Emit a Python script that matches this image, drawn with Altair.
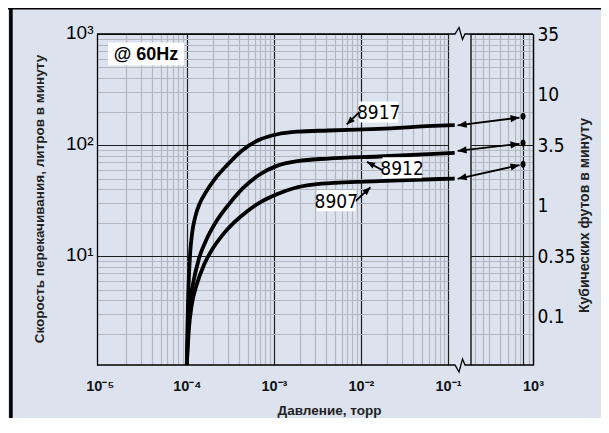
import math
import altair as alt
import pandas as pd

# ---------------- data ----------------
models = ["8917", "8912", "8907"]

pressure_8917 = [1.0e-4, 1.016e-4, 1.035e-4, 1.060e-4, 1.098e-4, 1.158e-4, 1.254e-4, 1.413e-4,
                 1.658e-4, 2.107e-4, 2.9e-4, 4.323e-4, 6.8e-4, 1.099e-3, 1.879e-3, 4.203e-3,
                 1.606e-2, 7.988e-2, 0.1193]
speed_8917 = [1.05, 2.17, 4.08, 6.9, 11.2, 16.7, 22.8, 30.0, 37.8, 49.7, 66.0, 89.5, 111.5,
              125.2, 132.0, 135.3, 140.0, 149.7, 151.3]

pressure_8912 = [1.0e-4, 1.027e-4, 1.083e-4, 1.189e-4, 1.376e-4, 1.703e-4, 2.223e-4, 3.059e-4,
                 4.44e-4, 6.8e-4, 1.099e-3, 1.879e-3, 4.203e-3, 1.606e-2, 7.988e-2, 0.1193]
speed_8912 = [1.05, 1.95, 3.67, 5.83, 9.45, 14.4, 21.0, 29.4, 41.1, 54.0, 65.3, 71.8, 75.6,
              78.9, 83.6, 84.9]

pressure_8907 = [1.0e-4, 1.055e-4, 1.142e-4, 1.305e-4, 1.572e-4, 1.945e-4, 2.539e-4, 3.495e-4,
                 4.94e-4, 7.365e-4, 1.099e-3, 1.734e-3, 2.81e-3, 5.497e-3, 1.606e-2, 7.988e-2,
                 0.1193]
speed_8907 = [1.05, 2.17, 3.67, 5.59, 8.33, 11.4, 15.3, 20.1, 25.4, 31.3, 36.3, 41.1, 44.0,
              45.9, 47.3, 49.5, 50.0]

# free-air displacement at atmospheric pressure (dots), L/min
atm_pressure = 760
atm_speed = [181.6, 104.3, 67.1]

# double arrows: curve end -> dot (pressure in the right panel's units)
arrow_p = [124.2, 688.5]
arrow_speed_left = [150.3, 88.5, 49.7]
arrow_speed_right = [177.0, 102.5, 66.0]

# model labels and their pointer arrows
label_p = [1.6e-2, 2.97e-2, 5.21e-3]
label_speed = [198.8, 62.6, 31.6]
pointer_tail_p = [9.84e-3, 1.835e-2, 8.6e-3]
pointer_tail_s = [201.7, 58.4, 31.1]
pointer_head_p = [6.87e-3, 1.174e-2, 1.286e-2]
pointer_head_s = [153.5, 70.6, 41.7]

cfm_ticks = [35, 10, 3.5, 1, 0.35, 0.1]
atm_grid = [200, 250, 300, 400, 500, 600, 700, 760, 900, 1000]
LPM_PER_CFM = 28.57

# ---------------- layout / style ----------------
FONT = "Liberation Sans, Arial, sans-serif"
NARROW = "Liberation Sans Narrow, Arial Narrow, DejaVu Sans Condensed, Liberation Sans, sans-serif"
BG = "#dce2ee"
MAJOR = "#1e1e1e"
MINOR = "#b3b7bf"
W, H = 436, 331
MAIN_W = 351
ATM_RANGE = [374, 436]
X_MAIN_DOMAIN = [9.3e-6, 0.1]
X_ATM_DOMAIN = [180, 1000]
Y_DOMAIN = [1.047, 1000]

x_main = alt.Scale(type="log", domain=X_MAIN_DOMAIN, range=[0, MAIN_W])
x_atm = alt.Scale(type="log", domain=X_ATM_DOMAIN, range=ATM_RANGE)
y_lpm = alt.Scale(type="log", domain=Y_DOMAIN)
y_cfm = alt.Scale(type="log", domain=[Y_DOMAIN[0] / LPM_PER_CFM, Y_DOMAIN[1] / LPM_PER_CFM])

KX_MAIN = MAIN_W / math.log10(X_MAIN_DOMAIN[1] / X_MAIN_DOMAIN[0])
KX_ATM = (ATM_RANGE[1] - ATM_RANGE[0]) / math.log10(X_ATM_DOMAIN[1] / X_ATM_DOMAIN[0])
KY = H / math.log10(Y_DOMAIN[1] / Y_DOMAIN[0])


def heading(p0, s0, p1, s1, kx):
    dx = math.log10(p1 / p0) * kx
    dy = -math.log10(s1 / s0) * KY
    return math.degrees(math.atan2(dy, dx)) % 360


SUP = {"-": "\u207b", "0": "\u2070", "1": "\u00b9", "2": "\u00b2", "3": "\u00b3",
       "4": "\u2074", "5": "\u2075"}


def sup(n):
    return "".join(SUP[c] for c in str(n))


E = "round(log(datum.value)/LN10)"
IS_MAJOR = f"abs(log(datum.value)/LN10 - {E}) < 0.001"


def decade_label_expr(exps):
    chain = "''"
    for k in exps:
        chain = f"{E} == {k} ? '10{sup(k)}' : ({chain})"
    return f"{IS_MAJOR} ? ({chain}) : ''"


def grid_color(test):
    return {"condition": {"test": test, "value": MAJOR}, "value": MINOR}


x_grid = [m * 10.0 ** k for k in range(-5, -1) for m in range(1, 10)] + [0.1]
y_grid = [m * 10.0 ** k for k in range(0, 3) for m in range(1, 10)][1:] + [1000.0]

x_axis_main = alt.Axis(
    orient="bottom", values=x_grid, labelExpr=decade_label_expr([-5, -4, -3, -2, -1]),
    domain=False, ticks=False, grid=True, labelOverlap=False, labelFlush=False,
    gridColor=grid_color(IS_MAJOR), gridWidth=1.2,
    gridOpacity={"condition": {"test": "datum.value < 1.5e-5", "value": 0}, "value": 1},
    labelFont=FONT, labelFontSize=14.5, labelFontWeight="bold", labelColor="#111", labelPadding=14,
    title="Давление, торр", titleFont=FONT, titleFontSize=13.5, titleFontWeight="bold",
    titleColor="#222", titleX=232, titleY=45, titleAlign="center", titleBaseline="middle", titleAngle=0)

x_axis_atm = alt.Axis(
    orient="bottom", values=atm_grid, labelExpr=f"datum.value == 1000 ? '10{sup(3)}' : ''",
    domain=False, ticks=False, grid=True, labelOverlap=False, labelFlush=False,
    gridColor=grid_color("datum.value == 760 || datum.value == 1000"), gridWidth=1.2,
    labelFont=FONT, labelFontSize=14.5, labelFontWeight="bold", labelColor="#111", labelPadding=14,
    title=None)

y_axis_left = alt.Axis(
    orient="left", values=y_grid, labelExpr=decade_label_expr([1, 2, 3]),
    domain=True, domainColor="black", domainWidth=1.3, ticks=False, grid=True,
    labelOverlap=False, labelFlush=False,
    gridColor=grid_color(IS_MAJOR), gridWidth=1.2,
    labelFont=FONT, labelFontSize=19, labelColor="black", labelPadding=4, labelOffset=-2,
    title="Скорость перекачивания, литров в минуту", titleFont=FONT, titleFontSize=13.5,
    titleFontWeight="bold", titleColor="#222", titleAngle=270, titleX=-58, titleY=H / 2 - 1,
    titleAlign="center", titleBaseline="middle")

# grid-only y axis for the right (atmospheric) panel
y_axis_atm = alt.Axis(
    orient="left", values=y_grid, labels=False, domain=False, ticks=False, grid=True,
    gridColor=grid_color(IS_MAJOR), gridWidth=1.2, title=None)

cfm_axis = alt.Axis(
    orient="right", values=cfm_ticks, format="~g",
    domain=True, domainColor="black", domainWidth=1.3, ticks=False, grid=False,
    labelOverlap=False, labelFlush=False,
    labelFont=NARROW, labelFontSize=19, labelColor="black", labelPadding=4,
    title="Кубических футов в минуту", titleFont=FONT, titleFontSize=14, titleFontWeight="bold",
    titleColor="#222", titleAngle=270, titleX=51, titleY=181, titleAlign="center",
    titleBaseline="middle")

# ---------------- tables ----------------
rows = []
for m, ps, ss in zip(models, [pressure_8917, pressure_8912, pressure_8907],
                     [speed_8917, speed_8912, speed_8907]):
    for i, (p, s) in enumerate(zip(ps, ss)):
        rows.append({"model": m, "p": p, "s": s, "i": i})
curves_df = pd.DataFrame(rows)

labels_df = pd.DataFrame({"model": models, "p": label_p, "s": label_speed})

pointer_df = pd.DataFrame({"model": models, "p": pointer_tail_p, "s": pointer_tail_s,
                           "p2": pointer_head_p, "s2": pointer_head_s})
pointer_df["ang"] = [heading(a, b, c, d, KX_MAIN) for a, b, c, d in
                     zip(pointer_tail_p, pointer_tail_s, pointer_head_p, pointer_head_s)]

arrows_df = pd.DataFrame({"model": models, "p": [arrow_p[0]] * 3, "s": arrow_speed_left,
                          "p2": [arrow_p[1]] * 3, "s2": arrow_speed_right})
head_rows = []
for m, sl, sr in zip(models, arrow_speed_left, arrow_speed_right):
    a = heading(arrow_p[0], sl, arrow_p[1], sr, KX_ATM)
    head_rows.append({"model": m, "p": arrow_p[1], "s": sr, "ang": a})
    head_rows.append({"model": m, "p": arrow_p[0], "s": sl, "ang": (a + 180) % 360})
heads_df = pd.DataFrame(head_rows)

dots_df = pd.DataFrame({"model": models, "p": [atm_pressure] * 3, "s": atm_speed})
cfm_df = pd.DataFrame({"cfm": cfm_ticks})
one = pd.DataFrame({"k": [0]})

# ---------------- layers ----------------
XA = dict(scale=x_main, axis=x_axis_main)
YA = dict(scale=y_lpm, axis=y_axis_left)

curves = alt.Chart(curves_df).mark_line(color="black", strokeWidth=3.8, interpolate="monotone").encode(
    x=alt.X("p:Q", **XA), y=alt.Y("s:Q", **YA), detail="model:N", order="i:Q")

pointers = alt.Chart(pointer_df).mark_rule(color="black", strokeWidth=1.8).encode(
    x=alt.X("p:Q", **XA), y=alt.Y("s:Q", **YA), x2="p2:Q", y2="s2:Q")

pointer_heads = alt.Chart(pointer_df).mark_point(
    shape="M0,0L-8,-3.3L-8,3.3Z", size=4, filled=True, color="black", opacity=1, strokeWidth=0
).encode(x=alt.X("p2:Q", **XA), y=alt.Y("s2:Q", **YA), angle=alt.Angle("ang:Q", scale=None))

label_boxes = alt.Chart(labels_df).mark_point(
    shape="M-19.5,-10.5H19.5V10.5H-19.5Z", size=4, filled=True, color="white", opacity=1, strokeWidth=0
).encode(x=alt.X("p:Q", **XA), y=alt.Y("s:Q", **YA))

label_text = alt.Chart(labels_df).mark_text(
    font=NARROW, fontSize=19, color="black", dy=1
).encode(x=alt.X("p:Q", **XA), y=alt.Y("s:Q", **YA), text="model:N")

layer_main = alt.layer(curves, pointers, pointer_heads, label_boxes, label_text)

XB = dict(scale=x_atm, axis=x_axis_atm)
YB = dict(scale=y_lpm, axis=y_axis_atm)

arrows = alt.Chart(arrows_df).mark_rule(color="black", strokeWidth=1.8).encode(
    x=alt.X("p:Q", **XB), y=alt.Y("s:Q", **YB), x2="p2:Q", y2="s2:Q")

arrow_heads = alt.Chart(heads_df).mark_point(
    shape="M0,0L-9,-3.6L-9,3.6Z", size=4, filled=True, color="black", opacity=1, strokeWidth=0
).encode(x=alt.X("p:Q", **XB), y=alt.Y("s:Q", **YB), angle=alt.Angle("ang:Q", scale=None))

dots = alt.Chart(dots_df).mark_point(
    shape="M0,-3.6A2.5,3.6 0 1,1 0,3.6A2.5,3.6 0 1,1 0,-3.6Z", size=4, filled=True,
    color="black", opacity=1, strokeWidth=0
).encode(x=alt.X("p:Q", **XB), y=alt.Y("s:Q", **YB))

layer_atm = alt.layer(arrows, arrow_heads, dots)

cfm_layer = alt.Chart(cfm_df).mark_point(opacity=0).encode(
    y=alt.Y("cfm:Q", scale=y_cfm, axis=cfm_axis))

frame_path = (f"M0,0H358L362,-6.5L365.5,5.5L368,0H{W}"
              f"M0,{H}H358L362,{H + 7}L365.5,{H - 6}L368,{H}H{W}"
              f"M{ATM_RANGE[0]},0V{H}")
frame = alt.Chart(one).mark_point(
    shape=frame_path, size=4, filled=False, color="black", strokeWidth=1.3, opacity=1
).encode(x=alt.value(0), y=alt.value(0))

left_bar = alt.Chart(one).mark_rule(color="black", strokeWidth=3.6).encode(
    x=alt.value(-86.1), y=alt.value(-26), y2=alt.value(H + 70))
top_line = alt.Chart(one).mark_rule(color="black", strokeWidth=1.4).encode(
    x=alt.value(-89), x2=alt.value(W + 70), y=alt.value(-25.3))

hz_box = alt.Chart(one).mark_point(
    shape="M-38,-11.5H38V11.5H-38Z", size=4, filled=True, color="white", opacity=1, strokeWidth=0
).encode(x=alt.value(49), y=alt.value(20))
hz_text = alt.Chart(one).mark_text(
    text="@ 60Hz", font=FONT, fontSize=18, fontWeight="bold", color="black"
).encode(x=alt.value(49), y=alt.value(21))

chart = alt.layer(
    layer_main, layer_atm, cfm_layer, frame, left_bar, top_line, hz_box, hz_text
).resolve_scale(
    x="independent", y="independent"
).properties(
    width=W, height=H,
    autosize=alt.AutoSizeParams(type="none"),
    padding={"left": 89, "top": 26, "right": 68, "bottom": 53},
).configure(
    background=BG
).configure_view(
    strokeWidth=0
)

chart.save("out.html", embed_options={"renderer": "svg", "actions": False})
